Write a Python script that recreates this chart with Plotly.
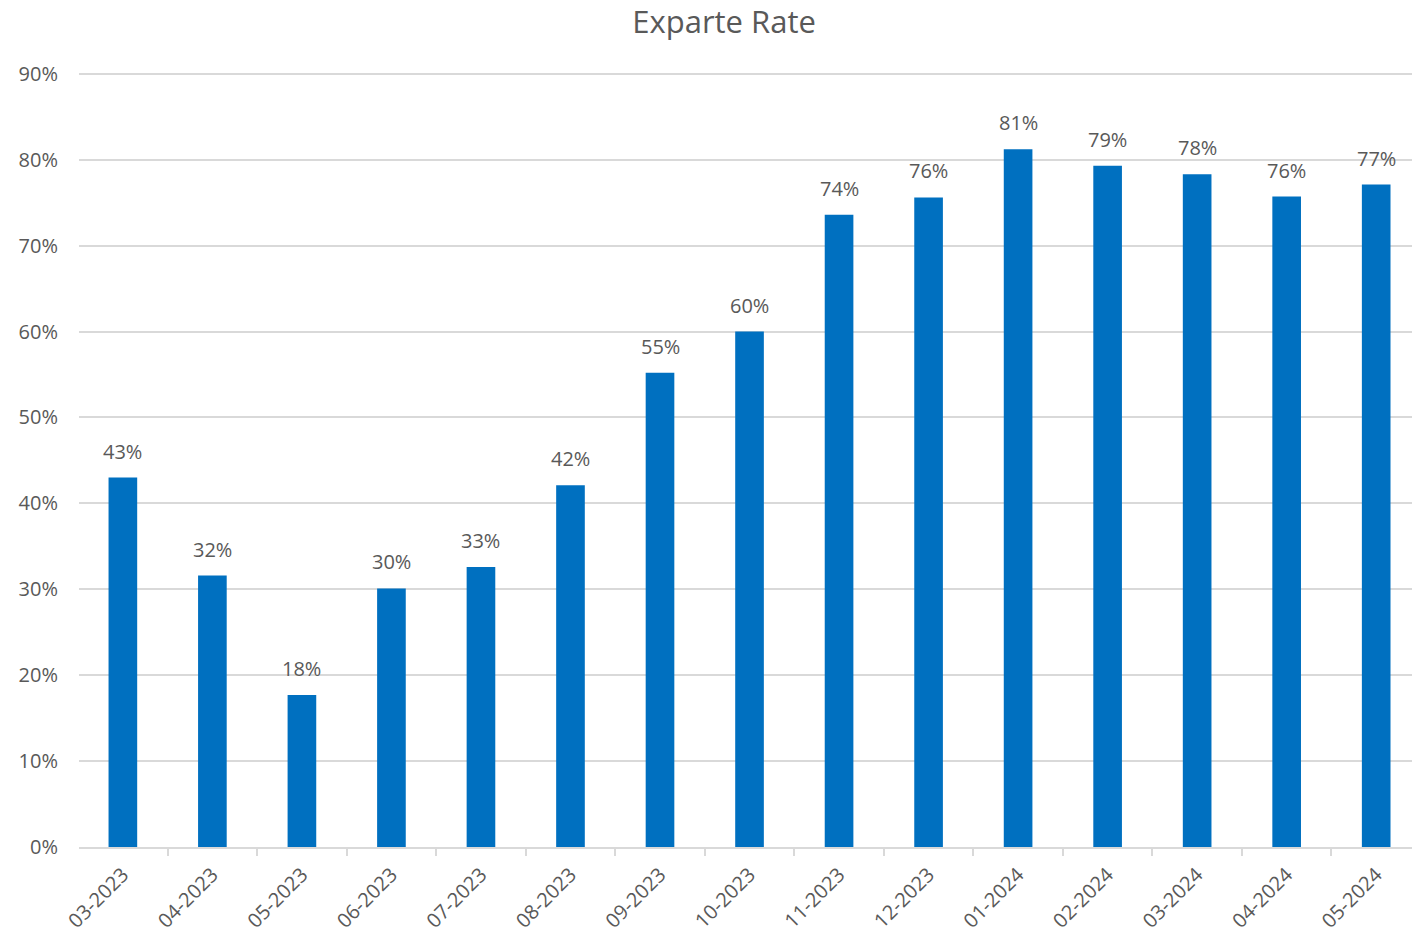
import plotly.graph_objects as go

months = ["03-2023", "04-2023", "05-2023", "06-2023", "07-2023", "08-2023", "09-2023",
          "10-2023", "11-2023", "12-2023", "01-2024", "02-2024", "03-2024", "04-2024", "05-2024"]
rates = [0.430, 0.316, 0.177, 0.301, 0.326, 0.421, 0.552, 0.600, 0.736, 0.756,
         0.812, 0.793, 0.783, 0.757, 0.771]

fig = go.Figure(go.Bar(
    x=months, y=rates,
    marker=dict(color="#0070C0", line=dict(width=0)),
))

for m, r in zip(months, rates):
    fig.add_annotation(x=m, y=r, text=f"{r:.0%}", showarrow=False,
                       yanchor="bottom", yshift=11,
                       font=dict(size=20, color="#595959", family="Open Sans"))

fig.update_layout(
    width=1412, height=933,
    margin=dict(l=79, r=0, t=71, b=86),
    paper_bgcolor="white", plot_bgcolor="white",
    bargap=0.68,
    showlegend=False,
    font=dict(family="Open Sans", color="#595959"),
    title=dict(text="Exparte Rate", x=0.5128, xanchor="center", y=0.976, yanchor="middle",
               font=dict(size=31, color="#595959", family="Open Sans")),
    xaxis=dict(range=[-0.49, 14.4], tickangle=-45, tickfont=dict(size=20, color="#595959"),
               showline=True, linecolor="#d9d9d9", linewidth=2,
               ticks="outside", tickson="boundaries", ticklen=7, tickcolor="#d9d9d9", tickwidth=2,
               showgrid=False, ticklabelstandoff=6),
    yaxis=dict(range=[0, 0.9032], dtick=0.1, tickformat=".0%",
               tickfont=dict(size=20, color="#595959"),
               showgrid=True, gridcolor="#d9d9d9", gridwidth=2,
               zeroline=False, ticks="", ticklabelstandoff=20),
)

fig.write_html("out.html")
